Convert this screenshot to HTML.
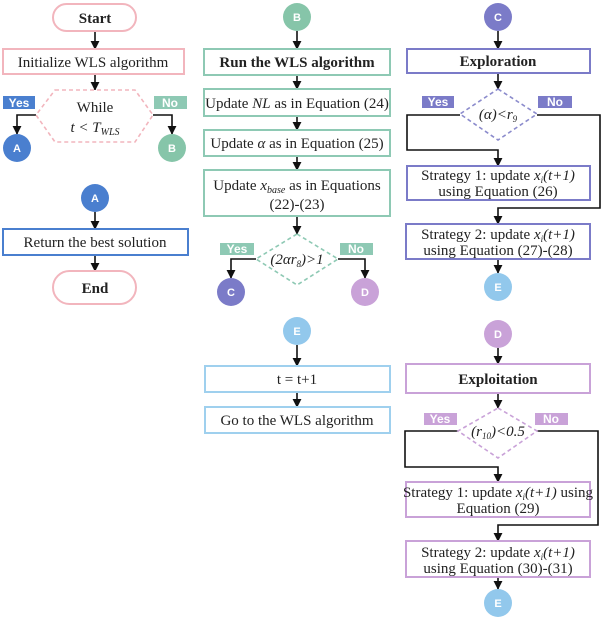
<!DOCTYPE html>
<html><head><meta charset="utf-8"><style>
html,body{margin:0;padding:0;background:#fff;}
svg{display:block}
text{font-family:"Liberation Serif",serif;font-size:15px;fill:#222;}
.c{font-family:"Liberation Sans",sans-serif;font-size:11px;font-weight:bold;fill:#fff;}
.l{font-family:"Liberation Sans",sans-serif;font-size:12px;font-weight:bold;fill:#fff;}
.b{font-weight:bold;}
</style></head><body>
<svg width="602" height="623" viewBox="0 0 602 623" xmlns="http://www.w3.org/2000/svg">
<defs><marker id="a" markerWidth="8" markerHeight="8" refX="4" refY="7" orient="auto" markerUnits="userSpaceOnUse"><path d="M0,1 L8,1 L4,8 z" fill="#111"/></marker>
<marker id="m" viewBox="0 0 10 10" refX="9" refY="5" markerWidth="9" markerHeight="9" orient="auto" markerUnits="userSpaceOnUse"><path d="M0,0 L10,5 L0,10 z" fill="#111"/></marker></defs>
<g stroke="#111" stroke-width="1.6" fill="none" marker-end="url(#m)">
<!-- left -->
<path d="M95,31 V49"/><path d="M95,74 V90"/>
<path d="M36,115 H17 V134"/><path d="M153,115 H172 V134"/>
<path d="M95,212 V229"/><path d="M95,255 V271"/>
<!-- middle -->
<path d="M297,31 V49"/><path d="M297,75 V89"/><path d="M297,116 V130"/><path d="M297,156 V170"/><path d="M297,216 V234"/>
<path d="M256,259 H231 V278"/><path d="M338,259 H365 V278"/>
<path d="M297,345 V366"/><path d="M297,392 V407"/>
<!-- right top -->
<path d="M498,31 V49"/><path d="M498,73 V89"/>
<path d="M460,115 H407 V150 H498 V166"/>
<path d="M537,115 H600 V208 H498 V224"/>
<path d="M498,259 V273"/>
<!-- right bottom -->
<path d="M498,348 V364"/><path d="M498,393 V408"/>
<path d="M458,431 H405 V467 H498 V482"/>
<path d="M537,431 H598 V525 H498 V541"/>
<path d="M498,577 V589"/>
</g>
<!-- left shapes -->
<rect x="53" y="4" width="83" height="27" rx="13.5" fill="#fff" stroke="#f2b5bd" stroke-width="2"/>
<text x="95" y="23" text-anchor="middle" class="b">Start</text>
<rect x="3" y="49" width="181" height="25" fill="#fff" stroke="#f2b5bd" stroke-width="2"/>
<text x="93" y="67" text-anchor="middle">Initialize WLS algorithm</text>
<polygon points="55,90 135,90 153,115 135,142 55,142 36,115" fill="#fff" stroke="#f2b5bd" stroke-width="1.6" stroke-dasharray="4,3"/>
<text x="95" y="112" text-anchor="middle">While</text>
<text x="95" y="132" text-anchor="middle" font-style="italic">t &lt; T<tspan font-size="10" dy="3">WLS</tspan></text>
<rect x="3" y="96" width="32" height="13" fill="#4a7fcf"/><text x="19" y="107" text-anchor="middle" class="l">Yes</text>
<rect x="154" y="96" width="33" height="13" fill="#8ec9b4"/><text x="170" y="107" text-anchor="middle" class="l">No</text>
<circle cx="17" cy="148" r="14" fill="#4a7fcf"/><text x="17" y="152" text-anchor="middle" class="c">A</text>
<circle cx="172" cy="148" r="14" fill="#86c5a9"/><text x="172" y="152" text-anchor="middle" class="c">B</text>
<circle cx="95" cy="198" r="14" fill="#4a7fcf"/><text x="95" y="202" text-anchor="middle" class="c">A</text>
<rect x="3" y="229" width="185" height="26" fill="#fff" stroke="#4a7fcf" stroke-width="2"/>
<text x="95" y="247" text-anchor="middle">Return the best solution</text>
<rect x="53" y="271" width="83" height="33" rx="16.5" fill="#fff" stroke="#f2b5bd" stroke-width="2"/>
<text x="95" y="293" text-anchor="middle" class="b">End</text>
<!-- middle -->
<circle cx="297" cy="17" r="14" fill="#86c5a9"/><text x="297" y="21" text-anchor="middle" class="c">B</text>
<g fill="#fff" stroke="#8ec9b4" stroke-width="2">
<rect x="204" y="49" width="186" height="26"/><rect x="204" y="89" width="186" height="27"/><rect x="204" y="130" width="186" height="26"/><rect x="204" y="170" width="186" height="46"/>
</g>
<text x="297" y="67" text-anchor="middle" class="b">Run the WLS algorithm</text>
<text x="297" y="108" text-anchor="middle">Update <tspan font-style="italic">NL</tspan> as in Equation (24)</text>
<text x="297" y="148" text-anchor="middle">Update <tspan font-style="italic">α</tspan> as in Equation (25)</text>
<text x="297" y="190" text-anchor="middle">Update <tspan font-style="italic">x<tspan font-size="10" dy="3">base</tspan></tspan><tspan dy="-3"> as in Equations</tspan></text>
<text x="297" y="209" text-anchor="middle">(22)-(23)</text>
<polygon points="297,234 338,259 297,285 256,259" fill="#fff" stroke="#8ec9b4" stroke-width="1.6" stroke-dasharray="4,3"/>
<text x="297" y="264" text-anchor="middle" font-style="italic" font-size="13">(2αr<tspan font-size="9" dy="3">8</tspan><tspan dy="-3">)&gt;1</tspan></text>
<rect x="220" y="243" width="34" height="12" fill="#8ec9b4"/><text x="237" y="253" text-anchor="middle" class="l">Yes</text>
<rect x="340" y="243" width="33" height="12" fill="#8ec9b4"/><text x="356" y="253" text-anchor="middle" class="l">No</text>
<circle cx="231" cy="292" r="14" fill="#7b7bc8"/><text x="231" y="296" text-anchor="middle" class="c">C</text>
<circle cx="365" cy="292" r="14" fill="#c9a2d8"/><text x="365" y="296" text-anchor="middle" class="c">D</text>
<circle cx="297" cy="331" r="14" fill="#92c8ec"/><text x="297" y="335" text-anchor="middle" class="c">E</text>
<rect x="205" y="366" width="185" height="26" fill="#fff" stroke="#9fd0ee" stroke-width="2"/>
<text x="297" y="384" text-anchor="middle">t = t+1</text>
<rect x="205" y="407" width="185" height="26" fill="#fff" stroke="#9fd0ee" stroke-width="2"/>
<text x="297" y="425" text-anchor="middle">Go to the WLS algorithm</text>
<!-- right top -->
<circle cx="498" cy="17" r="14" fill="#7b7bc8"/><text x="498" y="21" text-anchor="middle" class="c">C</text>
<g fill="#fff" stroke="#7b7bc8" stroke-width="2">
<rect x="407" y="49" width="183" height="24"/><rect x="407" y="166" width="183" height="34"/><rect x="406" y="224" width="184" height="35"/>
</g>
<text x="498" y="66" text-anchor="middle" class="b">Exploration</text>
<polygon points="498,89 537,114 498,140 460,114" fill="#fff" stroke="#8b8bcc" stroke-width="1.6" stroke-dasharray="4,3"/>
<text x="498" y="119" text-anchor="middle" font-style="italic" font-size="13">(α)&lt;r<tspan font-size="9" dy="3">9</tspan></text>
<rect x="422" y="96" width="32" height="12" fill="#7b7bc8"/><text x="438" y="106" text-anchor="middle" class="l">Yes</text>
<rect x="538" y="96" width="34" height="12" fill="#7b7bc8"/><text x="555" y="106" text-anchor="middle" class="l">No</text>
<text x="498" y="180" text-anchor="middle" font-size="14">Strategy 1: update <tspan font-style="italic">x<tspan font-size="9" dy="3">i</tspan><tspan dy="-3">(t+1)</tspan></tspan></text>
<text x="498" y="196" text-anchor="middle" font-size="14">using Equation (26)</text>
<text x="498" y="239" text-anchor="middle" font-size="14">Strategy 2: update <tspan font-style="italic">x<tspan font-size="9" dy="3">i</tspan><tspan dy="-3">(t+1)</tspan></tspan></text>
<text x="498" y="255" text-anchor="middle" font-size="14">using Equation (27)-(28)</text>
<circle cx="498" cy="287" r="14" fill="#92c8ec"/><text x="498" y="291" text-anchor="middle" class="c">E</text>
<!-- right bottom -->
<circle cx="498" cy="334" r="14" fill="#c9a2d8"/><text x="498" y="338" text-anchor="middle" class="c">D</text>
<g fill="#fff" stroke="#c9a2d8" stroke-width="2">
<rect x="406" y="364" width="184" height="29"/><rect x="406" y="482" width="184" height="35"/><rect x="406" y="541" width="184" height="36"/>
</g>
<text x="498" y="384" text-anchor="middle" class="b">Exploitation</text>
<polygon points="498,408 537,431 498,458 458,431" fill="#fff" stroke="#c9a2d8" stroke-width="1.6" stroke-dasharray="4,3"/>
<text x="498" y="436" text-anchor="middle" font-style="italic" font-size="13">(r<tspan font-size="9" dy="3">10</tspan><tspan dy="-3">)&lt;0.5</tspan></text>
<rect x="424" y="413" width="33" height="12" fill="#c9a2d8"/><text x="440" y="423" text-anchor="middle" class="l">Yes</text>
<rect x="535" y="413" width="33" height="12" fill="#c9a2d8"/><text x="551" y="423" text-anchor="middle" class="l">No</text>
<text x="498" y="497" text-anchor="middle" font-size="14">Strategy 1: update <tspan font-style="italic">x<tspan font-size="9" dy="3">i</tspan><tspan dy="-3">(t+1)</tspan></tspan> using</text>
<text x="498" y="513" text-anchor="middle" font-size="14">Equation (29)</text>
<text x="498" y="557" text-anchor="middle" font-size="14">Strategy 2: update <tspan font-style="italic">x<tspan font-size="9" dy="3">i</tspan><tspan dy="-3">(t+1)</tspan></tspan></text>
<text x="498" y="573" text-anchor="middle" font-size="14">using Equation (30)-(31)</text>
<circle cx="498" cy="603" r="14" fill="#92c8ec"/><text x="498" y="607" text-anchor="middle" class="c">E</text>
</svg>
</body></html>
